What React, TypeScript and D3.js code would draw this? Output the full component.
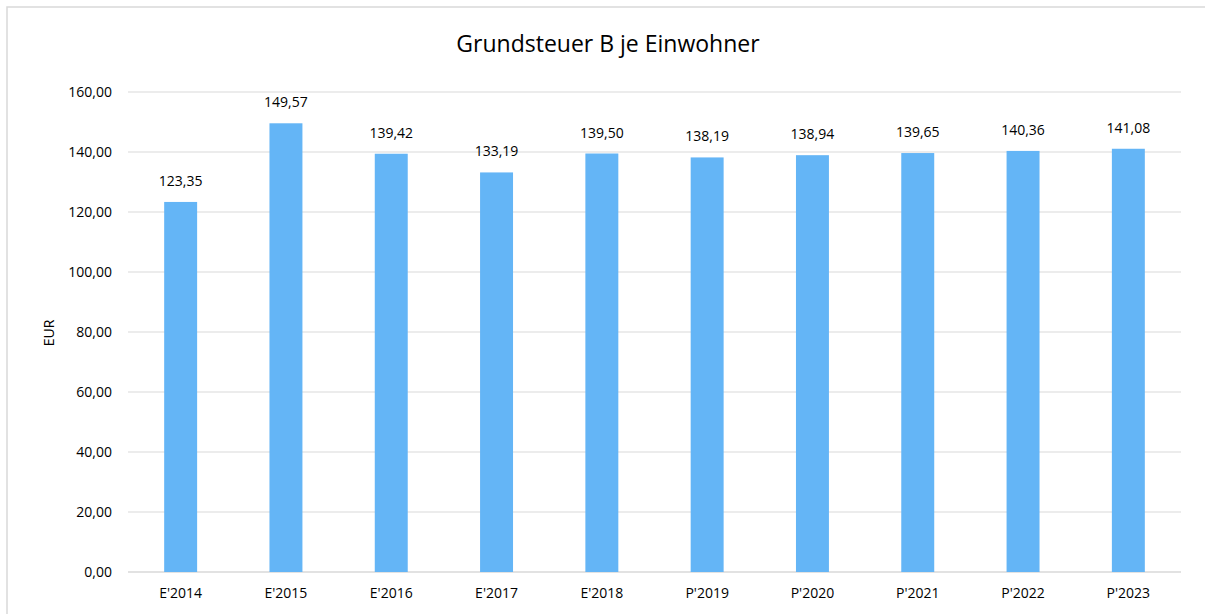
import React, { useEffect, useRef } from 'react';
import * as d3 from 'd3';

const categories = ["E'2014", "E'2015", "E'2016", "E'2017", "E'2018", "P'2019", "P'2020", "P'2021", "P'2022", "P'2023"];
const values = [123.35, 149.57, 139.42, 133.19, 139.5, 138.19, 138.94, 139.65, 140.36, 141.08];
const yTicks = [0, 20, 40, 60, 80, 100, 120, 140, 160];

const fmt = (v: number) => v.toFixed(2).replace('.', ',');

export default function App() {
  const svgRef = useRef<SVGSVGElement>(null);

  useEffect(() => {
    if (!svgRef.current) return;
    const svg = d3.select(svgRef.current);
    svg.selectAll('*').remove();

    const font = "'Open Sans', sans-serif";
    const margin = { left: 128, right: 1181, top: 92, bottom: 572 };

    // chart frame
    svg.append('rect')
      .attr('x', 7).attr('y', 7)
      .attr('width', 1205).attr('height', 620)
      .attr('fill', '#fff')
      .attr('stroke', '#d9d9d9')
      .attr('stroke-width', 1.5);

    const x = d3.scaleBand<string>()
      .domain(categories)
      .range([margin.left, margin.right])
      .paddingInner(0.687)
      .paddingOuter(0.3435);

    const y = d3.scaleLinear()
      .domain([0, 160])
      .range([margin.bottom, margin.top]);

    // gridlines
    svg.append('g')
      .selectAll('line')
      .data(yTicks)
      .enter()
      .append('line')
      .attr('x1', margin.left)
      .attr('x2', margin.right)
      .attr('y1', d => y(d))
      .attr('y2', d => y(d))
      .attr('stroke', '#d9d9d9')
      .attr('stroke-width', d => (d === 0 ? 1.5 : 1));

    // y tick labels
    svg.append('g')
      .selectAll('text')
      .data(yTicks)
      .enter()
      .append('text')
      .attr('x', 112)
      .attr('y', d => y(d))
      .attr('dy', '0.35em')
      .attr('text-anchor', 'end')
      .attr('font-family', font)
      .attr('font-size', 14)
      .attr('fill', '#000')
      .text(d => fmt(d));

    // bars
    svg.append('g')
      .selectAll('rect')
      .data(values)
      .enter()
      .append('rect')
      .attr('x', (d, i) => x(categories[i])!)
      .attr('width', x.bandwidth())
      .attr('y', d => y(d))
      .attr('height', d => y(0) - y(d))
      .attr('fill', '#64b5f6');

    // value labels
    svg.append('g')
      .selectAll('text')
      .data(values)
      .enter()
      .append('text')
      .attr('x', (d, i) => x(categories[i])! + x.bandwidth() / 2)
      .attr('y', d => y(d) - 16)
      .attr('text-anchor', 'middle')
      .attr('font-family', font)
      .attr('font-size', 14)
      .attr('fill', '#000')
      .text(d => fmt(d));

    // x labels
    svg.append('g')
      .selectAll('text')
      .data(categories)
      .enter()
      .append('text')
      .attr('x', d => x(d)! + x.bandwidth() / 2)
      .attr('y', 598)
      .attr('text-anchor', 'middle')
      .attr('font-family', font)
      .attr('font-size', 14)
      .attr('fill', '#000')
      .text(d => d);

    // axis title
    svg.append('text')
      .attr('transform', 'translate(54,333) rotate(-90)')
      .attr('text-anchor', 'middle')
      .attr('font-family', font)
      .attr('font-size', 14)
      .attr('fill', '#000')
      .text('EUR');

    // title
    svg.append('text')
      .attr('x', 608)
      .attr('y', 52)
      .attr('text-anchor', 'middle')
      .attr('font-family', font)
      .attr('font-size', 23)
      .attr('fill', '#000')
      .text('Grundsteuer B je Einwohner');
  }, []);

  return (
    <svg
      ref={svgRef}
      width={1205}
      height={614}
      style={{ position: 'absolute', left: 0, top: 0, display: 'block' }}
    />
  );
}
